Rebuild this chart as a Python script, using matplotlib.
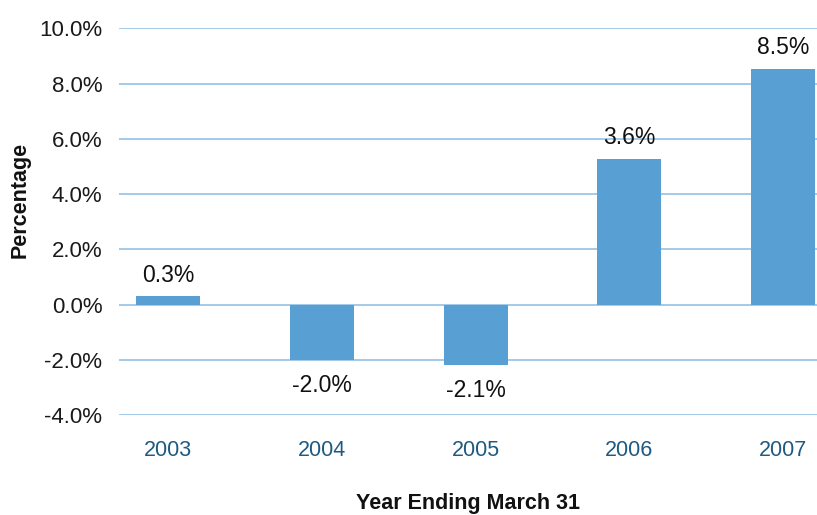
import matplotlib
matplotlib.use("Agg")
import matplotlib.pyplot as plt
import numpy as np

plt.rcParams['font.family'] = ['Liberation Sans', 'DejaVu Sans']

# 数据
years = ["2003", "2004", "2005", "2006", "2007"]
bar_values = [0.3, -2.0, -2.2, 5.27, 8.53]
value_labels = ["0.3%", "-2.0%", "-2.1%", "3.6%", "8.5%"]
y_ticks = [-4, -2, 0, 2, 4, 6, 8, 10]

bar_color = "#589fd3"
grid_color = "#9cc6e6"

fig = plt.figure(figsize=(8.17, 5.15), dpi=100)
ax = fig.add_axes([0.1457, 0.194, 0.8543, 0.751])

x = np.arange(len(years))
bars = ax.bar(x, bar_values, width=0.416, color=bar_color, zorder=3)

# 网格线
ax.set_ylim(-4, 10)
ax.set_yticks(y_ticks)
ax.set_yticklabels([f"{t:.1f}%" for t in y_ticks])
ax.yaxis.grid(True, color=grid_color, linewidth=1.3, zorder=0)
ax.set_xlim(-0.32, 4.22)
ax.set_xticks(x)
ax.set_xticklabels(years)

for s in ax.spines.values():
    s.set_visible(False)
ax.tick_params(axis='y', length=0, pad=12, labelsize=16, labelcolor="#1a1a1a")
ax.tick_params(axis='x', length=0, pad=18, labelsize=15.5, labelcolor="#1f5a80")

# 数值标签
for xi, v, lab in zip(x, bar_values, value_labels):
    if v >= 0:
        ax.annotate(lab, (xi, v), xytext=(0, 7), textcoords="offset points",
                    ha="center", va="bottom", fontsize=16.5, color="#111111")
    else:
        ax.annotate(lab, (xi, v), xytext=(0, -10), textcoords="offset points",
                    ha="center", va="top", fontsize=16.5, color="#111111")

ax.set_xlabel("Year Ending March 31", fontsize=15.5, fontweight="bold", labelpad=23, color="#111111")
ax.set_ylabel("Percentage", fontsize=15.5, fontweight="bold", color="#111111")
ax.yaxis.set_label_coords(-0.126, 0.556)

fig.savefig("out.png", dpi=100)
